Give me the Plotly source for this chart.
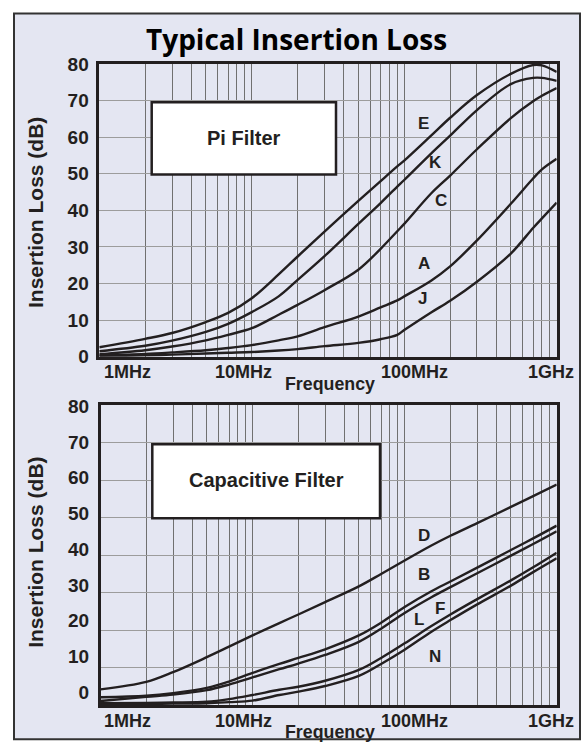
import math
import plotly.graph_objects as go

W, H = 588, 756

# ---------------- data ----------------
pi_freq_mhz = [1, 2, 3, 5, 7, 10, 15, 20, 30, 50, 70, 90, 100, 150, 200, 300, 500, 700, 800, 1000]
pi_E = [2.6, 4.9, 6.5, 9.5, 12.0, 16.0, 22.5, 27.4, 34.2, 42.6, 48.0, 52.0, 53.6, 60.4, 65.3, 71.5, 77.3, 79.7, 79.6, 77.8]
pi_K = [1.5, 3.0, 4.4, 6.8, 9.0, 12.2, 16.5, 21.0, 27.5, 36.3, 42.0, 46.5, 48.3, 55.5, 60.4, 67.4, 74.5, 76.2, 76.2, 75.4]
pi_C = [0.7, 1.8, 2.8, 4.5, 6.0, 7.8, 11.5, 14.2, 18.2, 23.8, 29.5, 34.3, 36.3, 44.6, 49.5, 56.7, 65.2, 69.8, 71.3, 73.4]
pi_A = [0.4, 0.8, 1.2, 1.8, 2.4, 3.2, 4.5, 5.6, 8.1, 11.0, 13.5, 15.4, 16.5, 20.8, 24.7, 31.8, 41.8, 48.7, 51.2, 54.1]
pi_J = [0.1, 0.4, 0.6, 0.9, 1.1, 1.3, 1.7, 2.1, 2.9, 3.8, 4.8, 6.0, 7.3, 12.1, 15.3, 20.5, 28.2, 35.2, 37.8, 42.1]

cap_freq_mhz = [1, 2, 3, 5, 7, 10, 15, 20, 30, 50, 70, 100, 150, 200, 300, 500, 700, 1000]
cap_D = [4.2, 6.2, 8.8, 12.8, 15.6, 18.6, 21.9, 24.2, 27.5, 31.7, 35.0, 38.6, 42.6, 45.2, 48.6, 52.9, 55.8, 58.9]
cap_B = [2.1, 2.5, 3.2, 4.6, 6.3, 8.6, 11.0, 12.6, 14.9, 18.6, 22.0, 26.2, 30.4, 33.0, 36.7, 41.4, 44.5, 47.9]
cap_L = [1.1, 2.2, 2.8, 4.0, 5.5, 7.4, 9.6, 11.1, 13.4, 16.9, 20.4, 24.6, 28.8, 31.5, 35.2, 39.9, 43.0, 46.4]
cap_F = [0.5, 0.6, 0.7, 0.9, 1.6, 2.7, 4.1, 4.9, 6.5, 9.4, 12.6, 16.5, 21.1, 24.2, 28.3, 33.3, 36.8, 40.7]
cap_N = [0.2, 0.3, 0.4, 0.5, 0.8, 1.2, 2.7, 3.6, 5.1, 7.8, 11.0, 14.8, 19.6, 22.7, 26.9, 31.9, 35.5, 39.2]

pi_names = ["E", "K", "C", "A", "J"]
cap_names = ["D", "B", "L", "F", "N"]

# curve label anchor points (MHz, dB)
pi_label_freq = [133, 161, 173, 135, 132]
pi_label_db = [63.8, 53.0, 42.6, 25.5, 15.8]
cap_label_freq = [135, 135, 125, 170, 159]
cap_label_db = [45.2, 34.8, 22.9, 25.7, 13.1]

grid_freqs = [m * 10 ** d for d in range(3) for m in range(1, 10)] + [1000]
y_ticks = [0, 10, 20, 30, 40, 50, 60, 70, 80]
x_tick_labels = ["1MHz", "10MHz", "100MHz", "1GHz"]

title_text = "Typical Insertion Loss"
y_title = "Insertion Loss (dB)"
x_title = "Frequency"
pi_box_text = "Pi Filter"
cap_box_text = "Capacitive Filter"

# ---------------- styling / layout helpers ----------------
INK = "#231f20"
BG = "#e4e6f2"
FONT = "Liberation Sans, Arial, sans-serif"


def px(x):
    return x / W


def py(y):
    return 1 - y / H


fig = go.Figure()

for name, vals in zip(pi_names, [pi_E, pi_K, pi_C, pi_A, pi_J]):
    fig.add_trace(go.Scatter(x=pi_freq_mhz, y=vals, mode="lines", name=name,
                             line=dict(color=INK, width=2.4, shape="spline", smoothing=1.0),
                             xaxis="x", yaxis="y", hoverinfo="skip"))
for name, vals in zip(cap_names, [cap_D, cap_B, cap_L, cap_F, cap_N]):
    fig.add_trace(go.Scatter(x=cap_freq_mhz, y=vals, mode="lines", name=name,
                             line=dict(color=INK, width=2.4, shape="spline", smoothing=1.0),
                             xaxis="x2", yaxis="y2", hoverinfo="skip"))

xcommon = dict(type="log", range=[0, 3], tickvals=grid_freqs, showticklabels=False,
               showgrid=True, gridcolor="#707070", gridwidth=1, zeroline=False,
               showline=True, mirror=True, linecolor=INK, linewidth=2.5, ticks="")
ycommon = dict(range=[0, 80], tickvals=y_ticks, showgrid=True, gridcolor="#9c9c9c",
               gridwidth=1, zeroline=False, showline=True, mirror=True,
               linecolor=INK, linewidth=2.5,
               tickfont=dict(family=FONT, size=19, color=INK, weight="bold"),
               ticks="outside", ticklen=4, tickcolor="rgba(0,0,0,0)")

fig.update_layout(
    width=W, height=H, autosize=False,
    margin=dict(l=0, r=0, t=0, b=0),
    paper_bgcolor="white", plot_bgcolor="white", showlegend=False,
    xaxis=dict(domain=[px(99.3), px(556.7)], anchor="y", **xcommon),
    yaxis=dict(domain=[py(356.7), py(55.5)], anchor="x", **ycommon),
    xaxis2=dict(domain=[px(100.5), px(556.7)], anchor="y2", **xcommon),
    yaxis2=dict(domain=[py(715), py(406.7)], anchor="x2",
                **{**ycommon, "showticklabels": False}),
    yaxis3=dict(overlaying="y2", anchor="x2", side="left", range=[-3.62, 80.22],
                tickvals=y_ticks, showgrid=False, zeroline=False, showline=False,
                tickfont=dict(family=FONT, size=19, color=INK, weight="bold"),
                ticks="outside", ticklen=6.5, tickcolor="rgba(0,0,0,0)"),
)
# invisible trace so yaxis3 (label axis of the lower chart) is drawn
fig.add_trace(go.Scatter(x=[1], y=[None], xaxis="x2", yaxis="y3", showlegend=False, hoverinfo="skip"))

shapes = [
    # outer frame
    dict(type="rect", xref="paper", yref="paper", x0=px(14), x1=px(580), y0=py(750), y1=py(3.5),
         fillcolor=BG, line=dict(color="#333333", width=2), layer="below"),
    # Pi filter box
    dict(type="rect", xref="paper", yref="paper", x0=px(151.7), x1=px(336), y0=py(169.3), y1=py(95),
         fillcolor="white", line=dict(color=INK, width=2.5), layer="above"),
    # Capacitive filter box
    dict(type="rect", xref="paper", yref="paper", x0=px(152.3), x1=px(380), y0=py(522.7), y1=py(446.7),
         fillcolor="white", line=dict(color=INK, width=2.5), layer="above"),
]
fig.update_layout(shapes=shapes)

ann = []


def bold(s):
    return dict(family=FONT, size=s, color=INK, weight="bold")


ann.append(dict(text=title_text, xref="paper", yref="paper", x=px(296), y=py(30),
                showarrow=False, font=dict(family="Open Sans, sans-serif", size=28, color="black", weight="bold"),
                xanchor="center", yanchor="middle"))
for cy in [208.5, 558]:
    ann.append(dict(text=y_title, xref="paper", yref="paper", x=px(35.3), y=py(cy), textangle=-90,
                    showarrow=False, font=bold(21), xanchor="center", yanchor="middle"))
for cy in [385, 743]:
    ann.append(dict(text=x_title, xref="paper", yref="paper", x=px(330), y=py(cy),
                    showarrow=False, font=bold(17.8), xanchor="center", yanchor="middle"))
x_label_px = [127, 243, 415, 550.5]
for cy in [372, 731]:
    for t, xp in zip(x_tick_labels, x_label_px):
        ann.append(dict(text=t, xref="paper", yref="paper", x=px(xp), y=py(cy),
                        showarrow=False, font=bold(18), xanchor="center", yanchor="middle"))
ann.append(dict(text=pi_box_text, xref="paper", yref="paper", x=px(243.9), y=py(131.5),
                showarrow=False, font=bold(20), xanchor="center", yanchor="middle"))
ann.append(dict(text=cap_box_text, xref="paper", yref="paper", x=px(266.2), y=py(483.5),
                showarrow=False, font=bold(20), xanchor="center", yanchor="middle"))
for t, f, v in zip(pi_names, pi_label_freq, pi_label_db):
    ann.append(dict(text=t, xref="x", yref="y", x=math.log10(f), y=v, showarrow=False,
                    font=bold(17), xanchor="center", yanchor="middle"))
for t, f, v in zip(cap_names, cap_label_freq, cap_label_db):
    ann.append(dict(text=t, xref="x2", yref="y2", x=math.log10(f), y=v, showarrow=False,
                    font=bold(17), xanchor="center", yanchor="middle"))
fig.update_layout(annotations=ann)

fig.write_html("out.html", config={"displayModeBar": False},
               post_script="document.body.style.margin='0px';document.body.style.overflow='hidden';")
